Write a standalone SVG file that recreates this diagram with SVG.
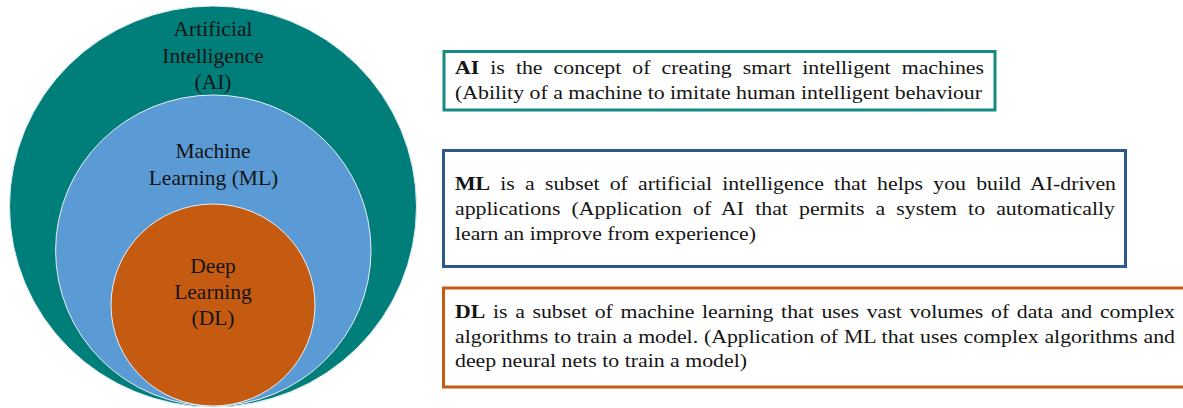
<svg xmlns="http://www.w3.org/2000/svg" width="1183" height="408" viewBox="0 0 1183 408">
<style>
  .circ { stroke: #e8eef5; stroke-width: 1; }
  .ctxt { font-family: "Liberation Serif", "Times New Roman", serif; font-size: 21.5px; fill: #141414; text-anchor: middle; }
  .btxt { font-family: "Liberation Serif", "Times New Roman", serif; font-size: 19px; fill: #141414; }
  .box { fill: #ffffff; stroke-width: 3; }
  b, .b { font-weight: bold; }
</style>
<rect x="0" y="0" width="1183" height="408" fill="#ffffff"/>

<g id="node-ai-circle">
  <ellipse class="circ" cx="213" cy="206.5" rx="203.5" ry="200.5" fill="#007F7A"/>
  <text class="ctxt" x="213" y="35.5">Artificial</text>
  <text class="ctxt" x="213" y="62.5">Intelligence</text>
  <text class="ctxt" x="213" y="88.5">(AI)</text>
</g>

<g id="node-ml-circle">
  <ellipse class="circ" cx="213.3" cy="250.5" rx="157.7" ry="155.5" fill="#5B9BD5"/>
  <text class="ctxt" x="213" y="157.5">Machine</text>
  <text class="ctxt" x="213.5" y="185">Learning (ML)</text>
</g>

<g id="node-dl-circle">
  <ellipse class="circ" cx="213" cy="305" rx="102" ry="101" fill="#C55A11"/>
  <text class="ctxt" x="213" y="272.5">Deep</text>
  <text class="ctxt" x="213" y="299">Learning</text>
  <text class="ctxt" x="213" y="325">(DL)</text>
</g>

<g id="node-ai-box">
  <rect class="box" x="444" y="51.5" width="551" height="58.5" stroke="#168A84"/>
  <g class="btxt" transform="translate(455 0) scale(1.147 1)">
    <text x="0" y="74.5" word-spacing="4.9" textLength="461.2"><tspan class="b">AI</tspan> is the concept of creating smart intelligent machines</text>
    <text x="0" y="99.5" textLength="459.5" lengthAdjust="spacingAndGlyphs">(Ability of a machine to imitate human intelligent behaviour</text>
  </g>
</g>

<g id="node-ml-box">
  <rect class="box" x="443.5" y="150.5" width="682" height="116" stroke="#2D5A88"/>
  <g class="btxt" transform="translate(455 0) scale(1.147 1)">
    <text x="0" y="190" word-spacing="4.1" textLength="576.3"><tspan class="b">ML</tspan> is a subset of artificial intelligence that helps you build AI-driven</text>
    <text x="0" y="215" word-spacing="4.9" textLength="575.4">applications (Application of AI that permits a system to automatically</text>
    <text x="0" y="240" textLength="262.4" lengthAdjust="spacingAndGlyphs">learn an improve from experience)</text>
  </g>
</g>

<g id="node-dl-box">
  <rect class="box" x="443.5" y="288" width="750" height="99" stroke="#C55A11"/>
  <g class="btxt" transform="translate(455 0) scale(1.147 1)">
    <text x="0" y="318.5" word-spacing="1.9" textLength="627.7"><tspan class="b">DL</tspan> is a subset of machine learning that uses vast volumes of data and complex</text>
    <text x="0" y="343" word-spacing="0.3" textLength="627.7">algorithms to train a model. (Application of ML that uses complex algorithms and</text>
    <text x="0" y="367" textLength="254.6" lengthAdjust="spacingAndGlyphs">deep neural nets to train a model)</text>
  </g>
</g>

<g id="connectors"></g>
</svg>
